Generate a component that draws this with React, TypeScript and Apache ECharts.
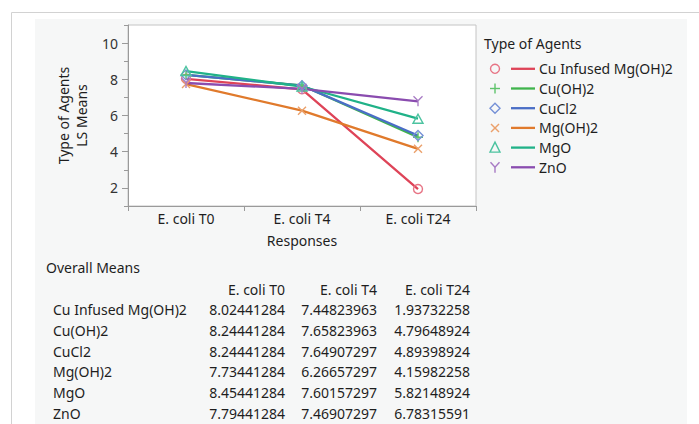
import React, { useEffect, useRef } from "react";
import * as echarts from "echarts";

const categories = ["E. coli T0", "E. coli T4", "E. coli T24"];
const agents = ["Cu Infused Mg(OH)2", "Cu(OH)2", "CuCl2", "Mg(OH)2", "MgO", "ZnO"];
const cuInfused = [8.02441284, 7.44823963, 1.93732258];
const cuOH2 = [8.24441284, 7.65823963, 4.79648924];
const cuCl2 = [8.24441284, 7.64907297, 4.89398924];
const mgOH2 = [7.73441284, 6.26657297, 4.15982258];
const mgO = [8.45441284, 7.60157297, 5.82148924];
const znO = [7.79441284, 7.46907297, 6.78315591];
const seriesValues = [cuInfused, cuOH2, cuCl2, mgOH2, mgO, znO];
const majorTicks = [2, 4, 6, 8, 10];
const minorTicks = [1, 3, 5, 7, 9, 11];

const lineColors = ["#de4458", "#3fb44c", "#4a6ec6", "#e07a2c", "#20b288", "#8a4caf"];
const markerColors = ["#e77384", "#5fc36b", "#7590d6", "#eba06b", "#4cc3a0", "#a77ac4"];
const markerKinds = ["circle", "plus", "diamond", "cross", "triangle", "y"];

const FONT = "'Noto Sans', 'DejaVu Sans', sans-serif";
const TXT = "#1e1e1e";

const symbolPaths: Record<string, string> = {
  circle: "circle",
  plus: "path://M5 0 L5 10 M0 5 L10 5",
  diamond: "path://M5 0 L10 5 L5 10 L0 5 Z",
  cross: "path://M0 0 L10 10 M10 0 L0 10",
  triangle: "path://M5 0 L10 9 L0 9 Z",
  y: "path://M0 0 L5 5 L10 0 M5 5 L5 11",
};
const symbolSizes: Record<string, number[]> = {
  circle: [9, 9],
  plus: [10, 10],
  diamond: [10, 10],
  cross: [8, 8],
  triangle: [10, 9],
  y: [9, 10],
};

function legendMarker(kind: string, cx: number, cy: number, color: string): any {
  const style = { stroke: color, lineWidth: 1.4, fill: "none" };
  if (kind === "circle") return { type: "circle", shape: { cx, cy, r: 4.5 }, style };
  if (kind === "plus")
    return {
      type: "group",
      children: [
        { type: "line", shape: { x1: cx - 5, y1: cy, x2: cx + 5, y2: cy }, style },
        { type: "line", shape: { x1: cx, y1: cy - 5, x2: cx, y2: cy + 5 }, style },
      ],
    };
  if (kind === "diamond")
    return { type: "polygon", shape: { points: [[cx, cy - 5], [cx + 5, cy], [cx, cy + 5], [cx - 5, cy]] }, style };
  if (kind === "cross")
    return {
      type: "group",
      children: [
        { type: "line", shape: { x1: cx - 4, y1: cy - 4, x2: cx + 4, y2: cy + 4 }, style },
        { type: "line", shape: { x1: cx + 4, y1: cy - 4, x2: cx - 4, y2: cy + 4 }, style },
      ],
    };
  if (kind === "triangle")
    return { type: "polygon", shape: { points: [[cx, cy - 5.5], [cx + 5, cy + 4.5], [cx - 5, cy + 4.5]] }, style };
  return {
    type: "group",
    children: [
      { type: "polyline", shape: { points: [[cx - 4.5, cy - 5], [cx, cy], [cx + 4.5, cy - 5]] }, style },
      { type: "line", shape: { x1: cx, y1: cy, x2: cx, y2: cy + 5.5 }, style },
    ],
  };
}

export default function App() {
  const ref = useRef<HTMLDivElement>(null);
  useEffect(() => {
    if (!ref.current) return;
    const chart = echarts.init(ref.current, null, { renderer: "svg" });

    const graphics: any[] = [
      { type: "rect", z: -10, silent: true, shape: { x: 35, y: 19, width: 652, height: 410 }, style: { fill: "#f6f7f7" } },
      { type: "line", silent: true, shape: { x1: 11.5, y1: 12.5, x2: 699, y2: 12.5 }, style: { stroke: "#d2d2d2", lineWidth: 1 } },
      { type: "line", silent: true, shape: { x1: 11.5, y1: 12.5, x2: 11.5, y2: 424 }, style: { stroke: "#d2d2d2", lineWidth: 1 } },
      { type: "text", left: 484, top: 36, style: { text: "Type of Agents", font: `14px ${FONT}`, fill: TXT } },
    ];
    agents.forEach((name, i) => {
      const cy = 68.8 + i * 19.7;
      graphics.push(legendMarker(markerKinds[i], 495, cy, markerColors[i]));
      graphics.push({ type: "line", shape: { x1: 511, y1: cy, x2: 535, y2: cy }, style: { stroke: lineColors[i], lineWidth: 2.3 } });
      graphics.push({ type: "text", x: 539, y: cy, style: { text: name, font: `14px ${FONT}`, fill: TXT, verticalAlign: "middle" } });
    });
    // table
    graphics.push({ type: "text", x: 46, y: 267, style: { text: "Overall Means", font: `14px ${FONT}`, fill: TXT, verticalAlign: "middle" } });
    const colRight = [285, 377, 470];
    categories.forEach((c, j) => {
      graphics.push({ type: "text", x: colRight[j], y: 289, style: { text: c, font: `14px ${FONT}`, fill: TXT, align: "right", verticalAlign: "middle" } });
    });
    agents.forEach((name, i) => {
      const y = 309.5 + i * 20.8;
      graphics.push({ type: "text", x: 53, y, style: { text: name, font: `14px ${FONT}`, fill: TXT, verticalAlign: "middle" } });
      seriesValues[i].forEach((v, j) => {
        graphics.push({ type: "text", x: colRight[j], y, style: { text: v.toFixed(8), font: `14px ${FONT}`, fill: TXT, align: "right", verticalAlign: "middle" } });
      });
    });

    chart.setOption({
      animation: false,
      textStyle: { fontFamily: FONT },
      grid: {
        left: 128,
        top: 25,
        width: 348,
        height: 181,
        show: true,
        backgroundColor: "#ffffff",
        borderColor: "#c4c4c4",
        borderWidth: 1,
      },
      xAxis: {
        type: "category",
        data: categories,
        boundaryGap: true,
        name: "Responses",
        nameLocation: "middle",
        nameGap: 27,
        nameTextStyle: { fontSize: 14, color: TXT, fontFamily: FONT },
        axisLine: { lineStyle: { color: "#9a9a9a", width: 1 } },
        axisTick: { show: true, length: 5, lineStyle: { color: "#9a9a9a" } },
        axisLabel: { fontSize: 14, color: TXT, margin: 5, fontFamily: FONT },
        splitLine: { show: false },
      },
      yAxis: [
        {
          type: "value",
          min: 1,
          max: 11,
          interval: 1,
          name: "Type of Agents\nLS Means",
          nameLocation: "middle",
          nameGap: 38,
          nameTextStyle: { fontSize: 14, color: TXT, lineHeight: 18, fontFamily: FONT },
          axisLine: { show: true, lineStyle: { color: "#9a9a9a", width: 1 } },
          axisTick: { show: true, length: 6, customValues: majorTicks, lineStyle: { color: "#9a9a9a" } },
          axisLabel: { fontSize: 14, color: "#333", margin: 10, customValues: majorTicks, fontFamily: FONT },
          splitLine: { show: false },
        },
        {
          type: "value",
          min: 1,
          max: 11,
          interval: 1,
          position: "left",
          axisLine: { show: false },
          axisTick: { show: true, length: 4, customValues: minorTicks, lineStyle: { color: "#9a9a9a" } },
          axisLabel: { show: false },
          splitLine: { show: false },
        },
      ],
      series: agents.map((name, i) => ({
        type: "line",
        name,
        data: seriesValues[i],
        silent: true,
        symbol: symbolPaths[markerKinds[i]],
        symbolSize: symbolSizes[markerKinds[i]],
        showSymbol: true,
        lineStyle: { color: lineColors[i], width: 2.3 },
        itemStyle: { color: "rgba(0,0,0,0)", borderColor: markerColors[i], borderWidth: 1.4 },
        emphasis: { disabled: true },
      })),
      graphic: graphics,
    });
    return () => chart.dispose();
  }, []);
  return <div ref={ref} style={{ position: "absolute", left: 0, top: 0, width: 699, height: 424 }} />;
}
